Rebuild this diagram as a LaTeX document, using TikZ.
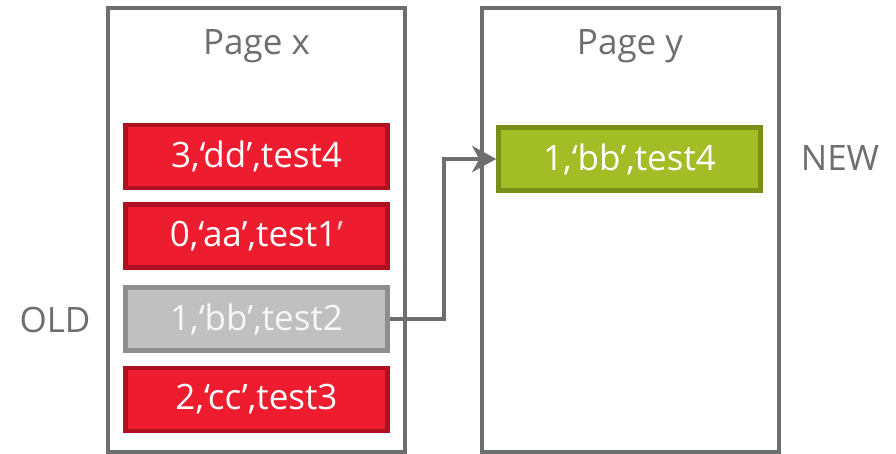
\documentclass[tikz,border=0pt]{standalone}
\usepackage{fontspec}
\setmainfont{Open Sans}
\usetikzlibrary{arrows.meta}
\definecolor{edge}{HTML}{6D6E70}
\definecolor{redfill}{HTML}{ED1C2E}
\definecolor{redline}{HTML}{B0101F}
\definecolor{grayfill}{HTML}{C0C0C0}
\definecolor{grayline}{HTML}{8E8E8E}
\definecolor{greenfill}{HTML}{A2BD25}
\definecolor{greenline}{HTML}{7A8F1A}
\begin{document}
\begin{tikzpicture}[x=1pt,y=-1pt,
  pagebox/.style={draw=edge,line width=4pt,minimum width=297pt,minimum height=444pt,inner sep=0pt},
  rec/.style={line width=4.5pt,minimum width=262pt,minimum height=63pt,inner sep=0pt,text=white,font=\fontsize{35}{40}\selectfont},
  redrec/.style={rec,fill=redfill,draw=redline},
  grayrec/.style={rec,fill=grayfill,draw=grayline,text=white!94!gray},
  greenrec/.style={rec,fill=greenfill,draw=greenline},
  lbl/.style={text=edge,font=\fontsize{35}{40}\selectfont,inner sep=0pt},
  conn/.style={draw=edge,line width=4.5pt,-{Stealth[length=24pt,width=26pt,inset=7pt]}}]
\useasboundingbox (0,0) rectangle (896,454);
\node[pagebox] (px) at (256.5,230) {};
\node[pagebox] (py) at (630,230) {};
\node[lbl] (tx) at (256.5,46) {Page x};
\node[lbl] (ty) at (630,46) {Page y};
\node[redrec] (r1) at (256.5,156.5) {3,‘dd’,test4};
\node[redrec] (r2) at (256.5,236) {0,‘aa’,test1\textcolor{white!75!redfill}{’}};
\node[grayrec] (old) at (256.5,319) {1,‘bb’,test2};
\node[redrec] (r4) at (256.5,399.5) {2,‘cc’,test3};
\node[greenrec] (new) at (629.5,159) {1,‘bb’,test4};
\node[lbl] (lold) at (55,320) {OLD};
\node[lbl] (lnew) at (840,158) {NEW};
\draw[conn] (old.east) -- ++(54,0) |- (new.west);
\end{tikzpicture}
\end{document}
